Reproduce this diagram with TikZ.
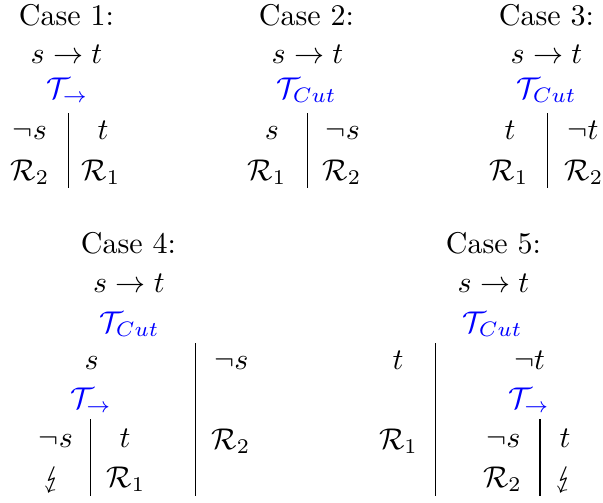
\documentclass[tikz,border=0pt]{standalone}
\usepackage{stmaryrd}
\begin{document}
\begin{tikzpicture}[x=0.33333pt,y=-0.33333pt,
  lbl/.style={inner sep=0pt,anchor=base},
  tab/.style={inner sep=0pt,anchor=base,text=blue},
  sep/.style={line width=0.4pt,black}]
\useasboundingbox (0,0) rectangle (603,502);
% Case 1
\node[lbl] (c1) at (66.5,25) {Case 1:};
\node[lbl] (f1) at (66.5,63) {$s\to t$};
\node[tab] (t1) at (67.5,98) {$\mathcal{T}_{\to}$};
\node[lbl] (a1) at (30,139) {$\neg s$};
\node[lbl] (b1) at (103,139) {$t$};
\node[lbl] (r21) at (30,180) {$\mathcal{R}_2$};
\node[lbl] (r11) at (101,180) {$\mathcal{R}_1$};
\draw[sep] (68.3,113) -- (68.3,188);
% Case 2
\node[lbl] (c2) at (306.5,25) {Case 2:};
\node[lbl] (f2) at (307.5,63) {$s\to t$};
\node[tab] (t2) at (306.5,98) {$\mathcal{T}_{Cut}$};
\node[lbl] (a2) at (272,139) {$s$};
\node[lbl] (b2) at (343,139) {$\neg s$};
\node[lbl] (r12) at (267,180) {$\mathcal{R}_1$};
\node[lbl] (r22) at (342,180) {$\mathcal{R}_2$};
\draw[sep] (307.7,113) -- (307.7,188);
% Case 3
\node[lbl] (c3) at (546.5,25) {Case 3:};
\node[lbl] (f3) at (546.5,63) {$s\to t$};
\node[tab] (t3) at (546.5,98) {$\mathcal{T}_{Cut}$};
\node[lbl] (a3) at (510,139) {$t$};
\node[lbl] (b3) at (583,139) {$\neg t$};
\node[lbl] (r13) at (509,180) {$\mathcal{R}_1$};
\node[lbl] (r23) at (584,180) {$\mathcal{R}_2$};
\draw[sep] (547.3,113) -- (547.3,188);
% Case 4
\node[lbl] (c4) at (128.5,253) {Case 4:};
\node[lbl] (f4) at (129,292) {$s\to t$};
\node[tab] (t4) at (129.5,332) {$\mathcal{T}_{Cut}$};
\node[lbl] (a4) at (91.7,369) {$s$};
\node[lbl] (b4) at (231.5,369) {$\neg s$};
\node[tab] (u4) at (91,408) {$\mathcal{T}_{\to}$};
\node[lbl] (d4) at (56,447) {$\neg s$};
\node[lbl] (e4) at (125,447) {$t$};
\node[lbl] (r24) at (231,449) {$\mathcal{R}_2$};
\node[lbl] (z4) at (53,487) {$\lightning$};
\node[lbl] (r14) at (126,487) {$\mathcal{R}_1$};
\draw[sep] (195.7,343) -- (195.7,496);
\draw[sep] (90.7,419) -- (90.7,496);
% Case 5
\node[lbl] (c5) at (493.5,253) {Case 5:};
\node[lbl] (f5) at (493.5,292) {$s\to t$};
\node[tab] (t5) at (492.5,332) {$\mathcal{T}_{Cut}$};
\node[lbl] (a5) at (398,369) {$t$};
\node[lbl] (b5) at (529.5,369) {$\neg t$};
\node[tab] (u5) at (529,408) {$\mathcal{T}_{\to}$};
\node[lbl] (r15) at (398.5,449) {$\mathcal{R}_1$};
\node[lbl] (d5) at (503.5,447) {$\neg s$};
\node[lbl] (e5) at (565,447) {$t$};
\node[lbl] (r25) at (502.5,487) {$\mathcal{R}_2$};
\node[lbl] (z5) at (565,487) {$\lightning$};
\draw[sep] (435.7,343) -- (435.7,496);
\draw[sep] (540,419) -- (540,496);
\end{tikzpicture}
\end{document}
